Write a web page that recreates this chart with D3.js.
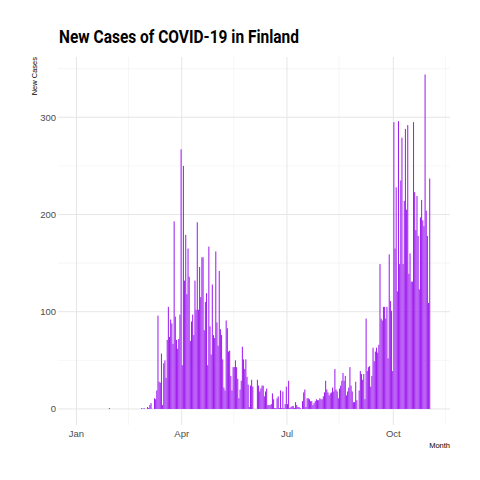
<!DOCTYPE html>
<html><head><meta charset="utf-8">
<script src="https://cdn.jsdelivr.net/npm/d3@7"></script>
<style>body{margin:0;background:#fff}</style></head>
<body><svg id="c" width="480" height="480"></svg>
<script>
// Segments of consecutive daily values
const seg0Start = "2020-01-29";
const seg0 = [1];
const segAStart = "2020-02-26";
const segA = [1,0,1,0,0,2,1,4,6,0,0,11,10,19,96,28,27,57,4,47,50,32,71,105,74,92,88,67,193,95,71,62,72,97,267,45,250,132,179,118,165,136,70,90,97,76,132,102,192,102,146,115,156,156,81,110,119,45,167,85,56,128,76,73,162,89,65,142,82,76,51,22,19,91,83,59,60,34,19,43,43,50,43,31,11,20,29,64,51,41,51,33,25,2,24,30,23];
const segBStart = "2020-06-05";
const segB = [30,24,18,21,24,24,13,18,21,4,4,4,5,16,10,1,1,11,13,1,19,1,18,1,5,23,5,29,1,2,3,3,1,7,4,2,2,1,0,8,17,20,2,11,11,10,8,8,4,6,8,10,9,9,11,10,10,13,17,29,20,17,14,16,17,22,18,41,20,18,11,21,24,29,37,29,34,14,18,22,43,24,18,7,7,28,9];
const segCStart = "2020-09-01";
const segC = [19,39,36,30,36,10,93,39,43,44,23,34,63,49,59,63,58,66,149,93,91,105,105,93,105,52,159,111,101,39,295,165,228,121,296,149,235,279,149,214,288,205,292,139,160,131,131,295,223,184,219,178,123,197,215,194,188,344,204,178,109,237];
const yTicks = [0,100,200,300];
const xTickDates = ["2020-01-01","2020-04-01","2020-07-01","2020-10-01"];
const xTickLabels = ["Jan","Apr","Jul","Oct"];

const parse = d3.utcParse("%Y-%m-%d");
const byDay = new Map();
[[seg0Start,seg0],[segAStart,segA],[segBStart,segB],[segCStart,segC]].forEach(([s,arr])=>{
  const st = parse(s);
  arr.forEach((v,i)=>{ const d=d3.utcDay.offset(st,i); byDay.set(+d,{date:d,value:v}); });
});
const data = Array.from(byDay.values()).filter(d=>d.value>0);

const svg = d3.select("#c");
const L=58,R=450,T=57,B=425;
const x = d3.scaleUtc().domain([parse("2019-12-16"), parse("2020-11-19")]).range([L,R]);
const y = d3.scaleLinear().domain([-16.5,362]).range([B,T]);

const g = svg.append("g");
const minorX = ["2020-02-15","2020-05-16","2020-08-15","2020-11-15"].map(parse);
g.selectAll(".mx").data(minorX).join("line").attr("x1",d=>x(d)).attr("x2",d=>x(d)).attr("y1",T).attr("y2",B).attr("stroke","#f0f0f0").attr("stroke-width",0.6);
g.selectAll(".my").data([50,150,250,350]).join("line").attr("x1",L).attr("x2",R).attr("y1",d=>y(d)).attr("y2",d=>y(d)).attr("stroke","#f0f0f0").attr("stroke-width",0.6);
g.selectAll(".Mx").data(xTickDates.map(parse)).join("line").attr("x1",d=>x(d)).attr("x2",d=>x(d)).attr("y1",T).attr("y2",B).attr("stroke","#e6e6e6").attr("stroke-width",1);
g.selectAll(".My").data(yTicks).join("line").attr("x1",L).attr("x2",R).attr("y1",d=>y(d)).attr("y2",d=>y(d)).attr("stroke","#e6e6e6").attr("stroke-width",1);

const bw = (x(parse("2020-01-02"))-x(parse("2020-01-01")))*0.9;
svg.append("g").selectAll("rect").data(data).join("rect")
  .attr("x",d=>x(d.date)).attr("width",bw)
  .attr("y",d=>y(d.value)).attr("height",d=>y(0)-y(d.value)).attr("fill","#a020f0");

const font="Liberation Sans, Arial, sans-serif";
svg.append("g").selectAll("text").data(yTicks).join("text").attr("x",56).attr("y",d=>y(d)+3.5)
  .attr("text-anchor","end").attr("font-family",font).attr("font-size",9.5).attr("fill","#4d4d4d").text(d=>d);
svg.append("g").selectAll("text").data(xTickDates).join("text").attr("x",d=>x(parse(d))).attr("y",437)
  .attr("text-anchor","middle").attr("font-family",font).attr("font-size",9.5).attr("fill","#4d4d4d").text((d,i)=>xTickLabels[i]);
svg.append("text").attr("x",59).attr("y",43).attr("font-family","Liberation Sans Narrow, Roboto, sans-serif").attr("font-weight","bold").attr("font-size",17.5)
  .attr("textLength",240).attr("lengthAdjust","spacingAndGlyphs").attr("fill","#000").text("New Cases of COVID-19 in Finland");
svg.append("text").attr("transform","translate(37,57) rotate(-90)").attr("text-anchor","end").attr("font-family",font).attr("font-size",7.5).attr("fill","#000").text("New Cases");
svg.append("text").attr("x",450).attr("y",448).attr("text-anchor","end").attr("font-family",font).attr("font-size",7.5).attr("fill","#000").text("Month");
</script></body></html>
